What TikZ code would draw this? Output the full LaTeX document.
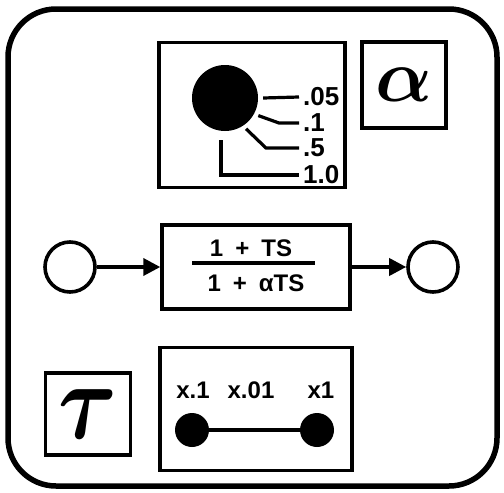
\documentclass[tikz,border=0pt]{standalone}
\usepackage{amsmath,amssymb}
\usepackage{fontspec}
\setmainfont{Liberation Sans}
\usetikzlibrary{arrows.meta,positioning,calc}

\begin{document}
\begin{tikzpicture}[x=1pt, y=-1pt,
  panel/.style={draw, line width=3.4pt, inner sep=0pt},
  ring/.style={circle, draw, line width=3.6pt, minimum size=50pt, inner sep=0pt},
  blob/.style={circle, fill, inner sep=0pt},
  tag/.style={font=\fontsize{26}{28}\selectfont\bfseries, inner xsep=4pt, inner ysep=0pt, anchor=west},
  mark label/.style={font=\fontsize{24}{26}\selectfont\bfseries, inner sep=0pt},
  wire/.style={line width=3.2pt},
  flow/.style={line width=3.6pt, -{Triangle[length=17pt,width=17pt]}}
]
\useasboundingbox (0,0) rectangle (504,493);
\draw[line width=5.5pt, rounded corners=48pt] (8,9) rectangle (497,486);

% alpha curve family
\node[panel, minimum width=186pt, minimum height=145pt] (curve) at (252,115) {};
\node[blob, minimum size=66pt] (dot) at (225,98) {};
\node[tag] (l05) at (299,97) {.05};
\node[tag] (l1) at (299,123) {.1};
\node[tag] (l5) at (299,148) {.5};
\node[tag] (l10) at (299,175) {1.0};
\draw[wire] ($(dot.east)+(5,0)$) -- (l05.west);
\draw[wire] ($(dot.-28)+(4,2)$) -- ($(l1.west)+(-20,0)$) -- (l1.west);
\draw[wire] ($(dot.-57)+(3,3)$) -- ($(l5.west)+(-33,0)$) -- (l5.west);
\draw[wire] ($(dot.south)+(-4,9)$) |- (l10.west);
\node[panel, minimum width=84pt, minimum height=86pt] (abox) at (404,85) {\scalebox{7.5}{$\boldsymbol{\alpha}$}};

% lead-lag block
\node[ring] (src) at (70,267) {};
\node[panel, minimum width=188pt, minimum height=84pt] (xfer) at (256,267) {};
\node[ring] (snk) at (433,267) {};
\node[mark label] (num) at (251,248) {1\enspace+\enspace TS};
\node[mark label] (den) at (256,283) {1\enspace+\enspace αTS};
\draw[wire] (192,263) -- (315,263);
\draw[flow] (src) -- (xfer);
\draw[flow] (xfer) -- (snk);

% tau range
\node[panel, minimum width=85pt, minimum height=82pt] (tbox) at (88,414) {\scalebox{9}[11]{$\boldsymbol{\tau}$}};
\node[panel, minimum width=192pt, minimum height=123pt] (range) at (256,409) {};
\node[mark label] (m1) at (193,390) {x.1};
\node[mark label] (m2) at (251,390) {x.01};
\node[mark label] (m3) at (321,390) {x1};
\node[blob, minimum size=34pt] (d1) at (192,430) {};
\node[blob, minimum size=34pt] (d2) at (317,430) {};
\draw[wire] (d1) -- (d2);
\end{tikzpicture}
\end{document}
